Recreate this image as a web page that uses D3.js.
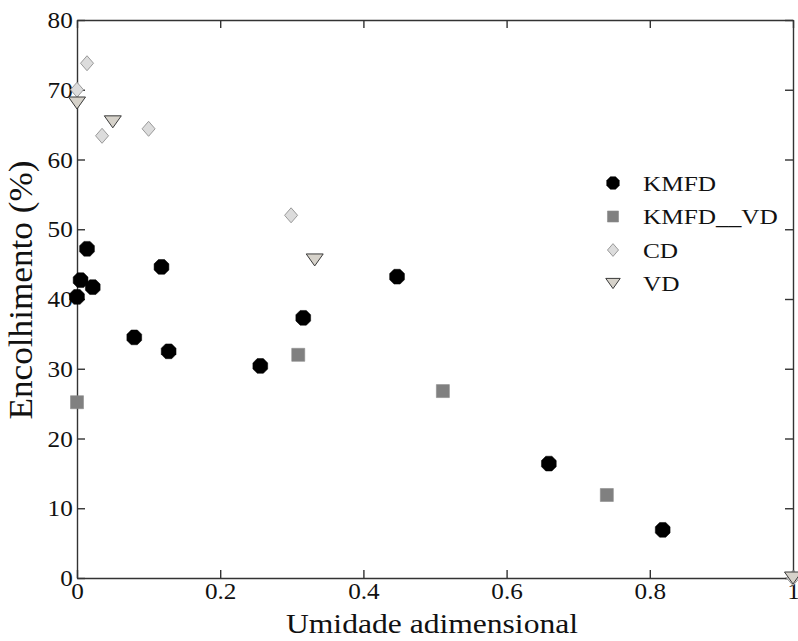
<!DOCTYPE html>
<html>
<head>
<meta charset="utf-8">
<script src="https://cdn.jsdelivr.net/npm/d3@7"></script>
<style>
  body { margin: 0; background: #fff; }
  text { font-family: "Liberation Serif", "Times New Roman", serif; fill: #111; }
</style>
</head>
<body>
<div id="grafica"></div>
<script>
// datos
var kmfdX = [0, 0.005, 0.014, 0.022, 0.08, 0.118, 0.128, 0.256, 0.316, 0.447, 0.659, 0.818];
var kmfdY = [40.3, 42.7, 47.2, 41.7, 34.5, 44.6, 32.5, 30.4, 37.3, 43.2, 16.4, 6.9];
var kmfdVdX = [0, 0.309, 0.511, 0.740];
var kmfdVdY = [25.2, 32.0, 26.8, 11.9];
var cdX = [0, 0.014, 0.035, 0.1, 0.299, 1.0];
var cdY = [70.0, 73.8, 63.4, 64.4, 52.0, 0];
var vdX = [0, 0.05, 0.332, 1.0];
var vdY = [68.1, 65.4, 45.6, 0];
var series = ['KMFD', 'KMFD__VD', 'CD', 'VD'];
var xTicks = [0, 0.2, 0.4, 0.6, 0.8, 1];
var yTicks = [0, 10, 20, 30, 40, 50, 60, 70, 80];

var W = 798, H = 641,
	m = {t: 20, r: 5, b: 63, l: 77},
	w = W - m.l - m.r,
	h = H - m.t - m.b,
	sx = 1.15;

var svg = d3.select('#grafica').append('svg')
	.attr('width', W)
	.attr('height', H);

var x = d3.scaleLinear().domain([0, 1]).range([0, w]);
var y = d3.scaleLinear().domain([0, 80]).range([h, 0]);

var g = svg.append('g').attr('transform', 'translate(' + m.l + ',' + m.t + ')');

var fmtX = function(d) { return d === 0 ? '0' : d === 1 ? '1' : d3.format('.1f')(d); };

// ejes (ticks hacia dentro, espejo arriba y derecha)
var ax = g.append('g').attr('transform', 'translate(0,' + h + ')')
	.call(d3.axisBottom(x).tickValues(xTicks).tickFormat(fmtX).tickSizeInner(-8).tickSizeOuter(0).tickPadding(14));
var ay = g.append('g')
	.call(d3.axisLeft(y).tickValues(yTicks).tickSizeInner(-8).tickSizeOuter(0).tickPadding(4));
var axT = g.append('g')
	.call(d3.axisTop(x).tickValues(xTicks).tickFormat('').tickSizeInner(-8).tickSizeOuter(0));
var ayR = g.append('g').attr('transform', 'translate(' + w + ',0)')
	.call(d3.axisRight(y).tickValues(yTicks).tickFormat('').tickSizeInner(-8).tickSizeOuter(0));

[ax, ay, axT, ayR].forEach(function(a) {
	a.attr('font-family', null);
	a.selectAll('path.domain, line').attr('stroke', '#333').attr('stroke-width', 1.4);
	a.selectAll('text').attr('font-size', 24).attr('fill', '#111')
		.attr('transform', 'scale(1.05,1)');
});
ax.selectAll('text').attr('dy', '0.3em');

// marcadores
var octagon = function(r) {
	var pts = [];
	for (var i = 0; i < 8; i++) {
		var a = Math.PI / 8 + i * Math.PI / 4;
		pts.push([r * Math.cos(a), r * Math.sin(a)]);
	}
	return 'M' + pts.join('L') + 'Z';
};
var marker = {
	'KMFD': {d: function(s) { return octagon(8 * s); }, fill: '#000', stroke: '#000', sw: 0.5},
	'KMFD__VD': {d: function(s) { var a = 6.5 * s; return 'M' + -a + ',' + -a + 'H' + a + 'V' + a + 'H' + -a + 'Z'; }, fill: '#808080', stroke: '#8c8c8c', sw: 0.6},
	'CD': {d: function(s) { var a = 6.5 * s, b = 7.5 * s; return 'M0,' + -b + 'L' + a + ',0L0,' + b + 'L' + -a + ',0Z'; }, fill: '#dcdcdc', stroke: '#9a9a9a', sw: 1},
	'VD': {d: function(s) { var a = 8.5 * s, b = 6 * s; return 'M' + -a + ',' + -b + 'H' + a + 'L0,' + b + 'Z'; }, fill: '#d6d2ca', stroke: '#3a3a3a', sw: 1}
};

var datos = {
	'KMFD': d3.zip(kmfdX, kmfdY),
	'KMFD__VD': d3.zip(kmfdVdX, kmfdVdY),
	'CD': d3.zip(cdX, cdY),
	'VD': d3.zip(vdX, vdY)
};

series.forEach(function(nombre) {
	var mk = marker[nombre];
	g.selectAll('.p-' + nombre).data(datos[nombre])
		.enter().append('path')
		.attr('class', 'p-' + nombre)
		.attr('d', mk.d(1))
		.attr('fill', mk.fill)
		.attr('stroke', mk.stroke)
		.attr('stroke-width', mk.sw)
		.attr('transform', function(d) { return 'translate(' + x(d[0]) + ',' + y(d[1]) + ')'; });
});

// leyenda
var ley = svg.append('g').attr('transform', 'translate(613,183)');
var filas = ley.selectAll('g').data(series).enter().append('g')
	.attr('transform', function(d, i) { return 'translate(0,' + (i * 33.5) + ')'; });
filas.append('path')
	.attr('d', function(d) { return marker[d].d(0.85); })
	.attr('fill', function(d) { return marker[d].fill; })
	.attr('stroke', function(d) { return marker[d].stroke; })
	.attr('stroke-width', function(d) { return marker[d].sw; });
filas.append('text')
	.attr('x', 30 / sx)
	.attr('dy', '0.35em')
	.attr('font-size', 22)
	.attr('transform', 'scale(' + sx + ',1)')
	.text(function(d) { return d; });

// titulos
svg.append('text')
	.attr('x', 432)
	.attr('y', 633)
	.attr('text-anchor', 'middle')
	.attr('font-size', 27)
	.attr('textLength', 292)
	.attr('lengthAdjust', 'spacingAndGlyphs')
	.text('Umidade adimensional');

svg.append('text')
	.attr('transform', 'translate(32,290) rotate(-90)')
	.attr('text-anchor', 'middle')
	.attr('font-size', 33)
	.attr('textLength', 259)
	.attr('lengthAdjust', 'spacingAndGlyphs')
	.text('Encolhimento (%)');
</script>
</body>
</html>
